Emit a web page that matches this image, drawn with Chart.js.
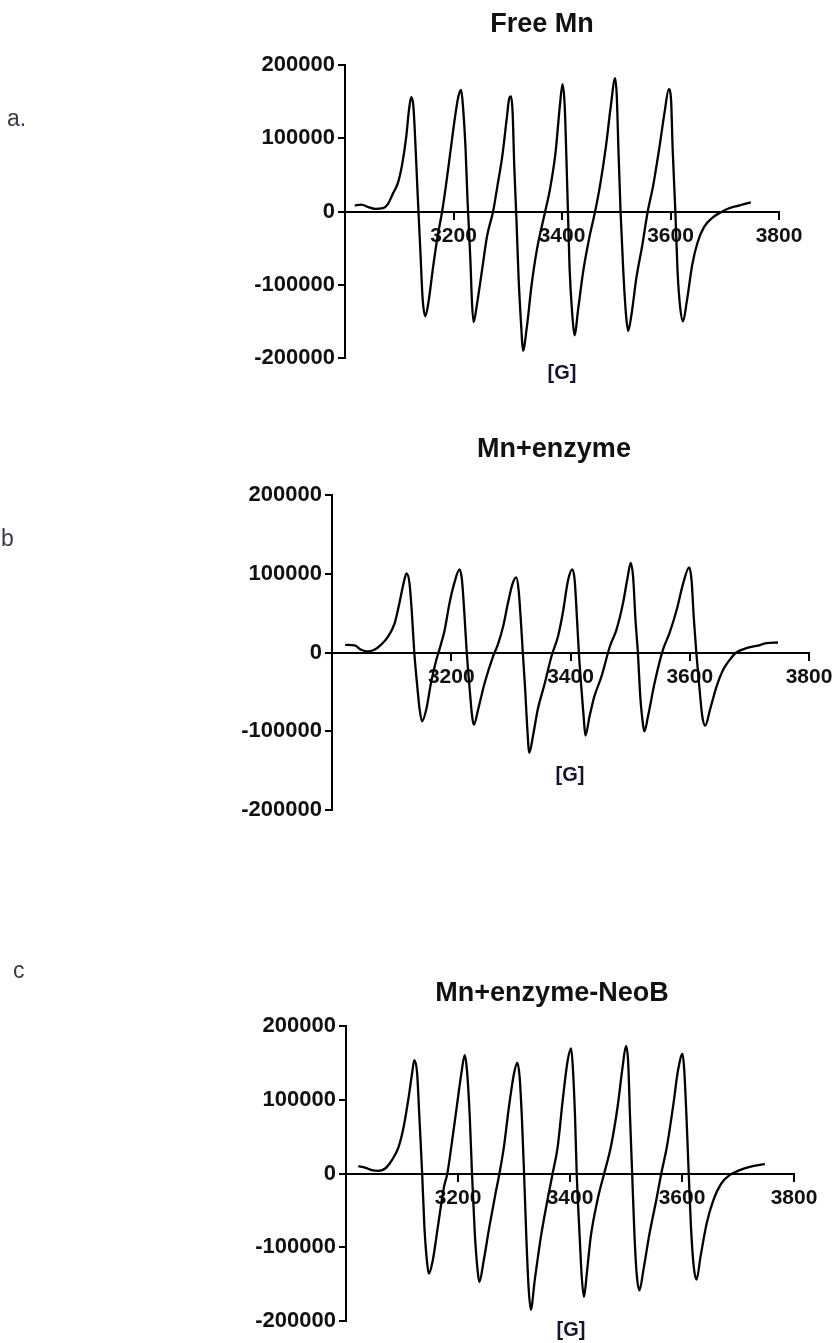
<!DOCTYPE html>
<html>
<head>
<meta charset="utf-8">
<script src="https://cdn.jsdelivr.net/npm/chart.js@4.4.1/dist/chart.umd.min.js"></script>
<style>
  html, body { margin: 0; padding: 0; background: #fff; }
  #page { position: relative; width: 838px; height: 1343px; overflow: hidden; background: #fff; }
  .panel { position: absolute; left: 0; width: 838px; }
  .lbl { position: absolute; white-space: nowrap; transform: translate(-50%, -50%); font-family: "Liberation Sans", Arial, sans-serif; line-height: 1; }
  .title { font-size: 27px; font-weight: bold; color: #111; }
  .letter { font-size: 23px; color: #3a3a48; transform: translate(0, -50%); }
  .unit { font-size: 20px; font-weight: bold; color: #151530; }
</style>
</head>
<body>
<div id="page">
  <div class="panel" style="top:0;height:420px"><canvas id="chartA" width="838" height="420"></canvas></div>
  <div class="panel" style="top:420px;height:450px"><canvas id="chartB" width="838" height="450"></canvas></div>
  <div class="panel" style="top:940px;height:403px"><canvas id="chartC" width="838" height="403"></canvas></div>

  <div class="lbl title" style="left:542px;top:23px">Free Mn</div>
  <div class="lbl title" style="left:554px;top:448px">Mn+enzyme</div>
  <div class="lbl title" style="left:552px;top:992px">Mn+enzyme-NeoB</div>

  <div class="lbl letter" style="left:7px;top:118px">a.</div>
  <div class="lbl letter" style="left:1px;top:538px">b</div>
  <div class="lbl letter" style="left:13px;top:970px">c</div>

  <div class="lbl unit" style="left:562px;top:372px">[G]</div>
  <div class="lbl unit" style="left:570px;top:774px">[G]</div>
  <div class="lbl unit" style="left:571px;top:1329px">[G]</div>
</div>
<script>
// Magnetic field (G) and EPR signal for each sample
const fieldA = [3018,3030,3043,3055,3070,3079,3088,3098,3106,3113,3118,3122,3126,3130,3134,3139,3143,3148,3154,3162,3170,3179,3186,3194,3203,3209,3214,3217,3222,3226,3231,3234,3237,3244,3253,3262,3273,3281,3290,3298,3303,3306,3309,3312,3316,3320,3325,3328,3335,3344,3354,3369,3378,3388,3396,3401,3405,3408,3411,3414,3419,3423,3430,3439,3450,3461,3470,3481,3490,3498,3501,3504,3508,3513,3518,3522,3528,3537,3548,3558,3568,3579,3589,3597,3601,3604,3609,3613,3618,3623,3630,3640,3650,3662,3678,3693,3708,3726,3748];
const signalA = [8000,9500,6000,3600,4500,10000,24000,40000,67000,103000,139000,156000,144000,89000,22000,-55000,-118000,-143000,-123000,-78000,-37000,0,35000,80000,130000,157000,166000,148000,89000,13000,-64000,-123000,-151000,-123000,-78000,-33000,0,35000,76000,126000,155000,157000,135000,62000,-10000,-91000,-159000,-190000,-159000,-100000,-51000,0,31000,80000,144000,174000,144000,76000,-1000,-78000,-141000,-169000,-132000,-82000,-37000,0,35000,89000,144000,182000,157000,85000,-1000,-82000,-141000,-163000,-141000,-91000,-46000,0,35000,85000,135000,167000,153000,85000,-1000,-82000,-132000,-150000,-123000,-73000,-42000,-21000,-8000,-1000,4500,8000,12600];

const fieldB = [3022,3038,3049,3060,3071,3082,3094,3105,3113,3120,3125,3130,3134,3138,3143,3147,3151,3158,3166,3175,3180,3189,3197,3205,3214,3218,3222,3226,3231,3235,3238,3245,3256,3270,3278,3287,3295,3303,3309,3313,3317,3320,3324,3327,3331,3337,3345,3357,3368,3379,3387,3396,3403,3407,3411,3414,3418,3422,3425,3432,3440,3452,3466,3477,3488,3496,3501,3505,3509,3513,3517,3522,3524,3530,3541,3555,3566,3578,3589,3599,3603,3607,3611,3616,3621,3626,3634,3645,3656,3667,3678,3695,3712,3729,3748];
const signalB = [9700,8900,3400,1300,3400,9700,20300,37100,62400,87800,100400,87800,49800,0,-43000,-72600,-87300,-72600,-38800,-9300,3400,28700,62400,87800,105500,92000,49800,0,-47300,-81000,-91600,-72600,-38800,-5100,9700,32900,62400,87800,95400,79300,37100,0,-47300,-89500,-127400,-106300,-72600,-38800,-5100,20300,49800,92000,105500,92000,41400,0,-43000,-81000,-105500,-81000,-55700,-30400,7600,28700,62400,96200,113900,96200,41400,0,-55700,-93700,-100000,-81000,-38800,3400,24500,54000,87800,108000,92000,41400,0,-43000,-81000,-92800,-72600,-43000,-21900,-9300,0,5500,8400,11800,12700];

const fieldC = [3022,3034,3046,3058,3070,3082,3094,3103,3112,3118,3122,3127,3131,3136,3140,3145,3148,3155,3164,3175,3181,3188,3197,3206,3212,3216,3221,3225,3230,3235,3238,3246,3256,3267,3274,3282,3291,3300,3306,3310,3314,3318,3322,3326,3330,3337,3348,3362,3369,3378,3387,3396,3402,3405,3409,3412,3417,3421,3425,3430,3437,3449,3461,3473,3485,3494,3500,3504,3507,3511,3515,3519,3524,3531,3542,3554,3563,3573,3584,3593,3601,3604,3608,3612,3616,3621,3626,3633,3644,3656,3670,3685,3703,3721,3748];
const signalC = [10000,8100,4500,3600,6800,18100,36200,63300,104100,135700,153800,135700,76900,0,-72400,-122200,-135700,-117600,-72400,-18100,0,36200,86000,135700,160600,140300,76900,0,-81400,-131200,-147100,-117600,-72400,-27100,0,36200,90500,135700,150200,131200,76900,0,-86000,-153800,-184600,-144800,-86000,-27100,0,36200,99500,153800,169700,144800,76900,0,-81400,-140300,-167400,-135700,-86000,-36200,0,36200,90500,144800,172900,149300,81400,0,-81400,-135700,-158400,-131200,-81400,-36200,0,36200,90500,140300,162000,140300,76900,0,-72400,-126700,-143900,-113100,-67900,-36200,-13600,-2300,4500,9000,12700];

// Axis ticks shared by the three panels
const xTickValues = [3000, 3200, 3400, 3600, 3800];
const xTickLabels = ['', '3200', '3400', '3600', '3800'];
const yTickValues = [-200000, -100000, 0, 100000, 200000];
const yTickLabels = ['-200000', '-100000', '0', '100000', '200000'];

Chart.defaults.font.family = '"Liberation Sans", Arial, sans-serif';
Chart.defaults.color = '#111';

function buildPanel(canvasId, field, signal, pad) {
  const pts = field.map((x, i) => ({ x: x, y: signal[i] }));
  const axisLine = { display: true, color: '#000', width: 2 };
  const tickMarks = { display: true, drawOnChartArea: false, drawTicks: true, tickLength: 7, color: '#000', lineWidth: 2 };
  return new Chart(document.getElementById(canvasId), {
    type: 'line',
    data: {
      datasets: [{
        data: pts,
        borderColor: '#000',
        borderWidth: 2.3,
        pointRadius: 0,
        fill: false,
        cubicInterpolationMode: 'monotone'
      }]
    },
    options: {
      responsive: false,
      devicePixelRatio: 1,
      animation: false,
      events: [],
      layout: { padding: pad },
      plugins: { legend: { display: false }, tooltip: { enabled: false }, title: { display: false } },
      scales: {
        x: {
          type: 'linear',
          position: { y: 0 },
          min: 3000,
          max: 3800,
          border: axisLine,
          grid: tickMarks,
          afterBuildTicks: s => { s.ticks = xTickValues.map(v => ({ value: v })); },
          ticks: {
            autoSkip: false,
            maxRotation: 0,
            padding: 5,
            font: { size: 21, weight: 'bold' },
            color: '#111',
            callback: (v, i) => xTickLabels[i]
          }
        },
        y: {
          type: 'linear',
          position: 'left',
          min: -200000,
          max: 200000,
          border: axisLine,
          grid: tickMarks,
          afterBuildTicks: s => { s.ticks = yTickValues.map(v => ({ value: v })); },
          afterFit: s => { s.width = 100; },
          ticks: {
            autoSkip: false,
            padding: 3,
            font: { size: 22, weight: 'bold' },
            color: '#111',
            callback: (v, i) => yTickLabels[i]
          }
        }
      }
    }
  });
}

buildPanel('chartA', fieldA, signalA, { left: 245, right: 59, top: 65, bottom: 62 });
buildPanel('chartB', fieldB, signalB, { left: 232, right: 29, top: 75, bottom: 60 });
buildPanel('chartC', fieldC, signalC, { left: 246, right: 44, top: 86, bottom: 22 });
</script>
</body>
</html>
